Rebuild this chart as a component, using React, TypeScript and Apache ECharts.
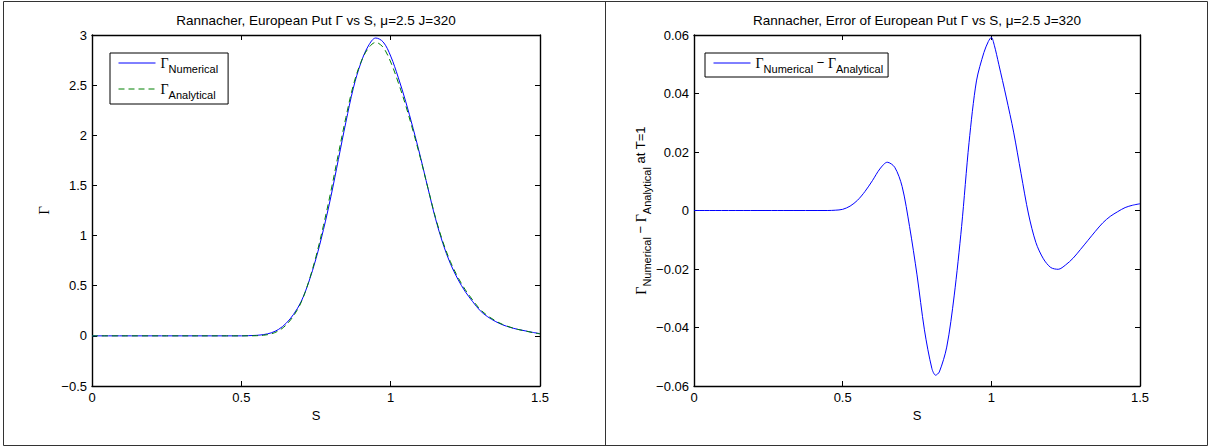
import React, { useEffect, useRef } from 'react';
import * as echarts from 'echarts';

// ---- data ----
const sGamma = [0, 0.25, 0.45, 0.475, 0.5, 0.525, 0.55, 0.575, 0.6, 0.625, 0.65, 0.675, 0.7, 0.725, 0.75, 0.775, 0.8, 0.825, 0.85, 0.875, 0.9, 0.925, 0.95, 0.975, 1.0, 1.025, 1.05, 1.075, 1.1, 1.125, 1.15, 1.175, 1.2, 1.225, 1.25, 1.275, 1.3, 1.325, 1.35, 1.375, 1.4, 1.425, 1.45, 1.475, 1.5];
const gammaNumerical = [0, 0, 0, 0, 0, 0.002, 0.005, 0.013, 0.03, 0.065, 0.125, 0.215, 0.34, 0.53, 0.77, 1.06, 1.39, 1.76, 2.13, 2.47, 2.72, 2.89, 2.97, 2.93, 2.79, 2.58, 2.34, 2.07, 1.78, 1.47, 1.17, 0.92, 0.72, 0.565, 0.44, 0.34, 0.25, 0.19, 0.145, 0.11, 0.085, 0.065, 0.05, 0.035, 0.022];
const gammaAnalytical = [0, 0, 0, 0, 0, 0.0005, 0.0015, 0.0065, 0.02, 0.051, 0.108, 0.2, 0.332, 0.535, 0.792, 1.101, 1.444, 1.815, 2.177, 2.499, 2.726, 2.867, 2.926, 2.876, 2.731, 2.53, 2.301, 2.043, 1.767, 1.471, 1.181, 0.937, 0.74, 0.585, 0.459, 0.356, 0.263, 0.2, 0.152, 0.114, 0.087, 0.065, 0.049, 0.033, 0.02];

const sError = [0, 0.3, 0.45, 0.475, 0.5, 0.525, 0.55, 0.575, 0.6, 0.625, 0.65, 0.675, 0.7, 0.725, 0.75, 0.775, 0.8, 0.8125, 0.825, 0.85, 0.875, 0.9, 0.925, 0.95, 0.975, 0.99, 1.0, 1.01, 1.025, 1.05, 1.075, 1.1, 1.125, 1.15, 1.175, 1.2, 1.225, 1.25, 1.275, 1.3, 1.325, 1.35, 1.375, 1.4, 1.425, 1.45, 1.475, 1.5];
const gammaError = [0, 0, 0, 0.0001, 0.0004, 0.0015, 0.0035, 0.0065, 0.0102, 0.0142, 0.0165, 0.0148, 0.0082, -0.0055, -0.022, -0.0408, -0.054, -0.0563, -0.0552, -0.0467, -0.0292, -0.0055, 0.0232, 0.0443, 0.054, 0.0578, 0.0592, 0.0565, 0.05, 0.0388, 0.0268, 0.0126, -0.0012, -0.011, -0.0165, -0.0195, -0.0201, -0.0186, -0.0163, -0.0133, -0.0102, -0.0071, -0.0042, -0.002, -0.0004, 0.001, 0.0018, 0.0023];

const xRange = { min: 0, max: 1.5, interval: 0.5 };
const gammaRange = { min: -0.5, max: 3, interval: 0.5 };
const errorRange = { min: -0.06, max: 0.06, interval: 0.02 };

const titleLeft = 'Rannacher, European Put Γ vs S, μ=2.5 J=320';
const titleRight = 'Rannacher, Error of European Put Γ vs S, μ=2.5 J=320';
const nameNum = 'Γ Numerical';
const nameAna = 'Γ Analytical';
const nameErr = 'Γ Numerical − Γ Analytical';

const SANS = '"Liberation Sans", Arial, Helvetica, sans-serif';
const SERIF = '"Liberation Serif", "Times New Roman", serif';

const rich = {
  G: { fontFamily: SERIF, fontSize: 14, lineHeight: 14, verticalAlign: 'top', color: '#000' },
  s: { fontFamily: SANS, fontSize: 11, lineHeight: 12, padding: [7, 0, 0, 0], verticalAlign: 'top', color: '#000' },
  m: { fontFamily: SANS, fontSize: 13, lineHeight: 14, verticalAlign: 'top', color: '#000' },
};

const fmt = (v: number) => {
  const r = Math.round(v * 10000) / 10000;
  if (r === 0) return '0';
  return r < 0 ? '\u2212' + String(-r) : String(r);
};

const axisLine = { show: true, onZero: false, lineStyle: { color: '#000', width: 1.4 } };
const axisTick = { show: true, inside: true, length: 5, lineStyle: { color: '#000', width: 1 } };
const labelStyle = { color: '#000', fontSize: 13, fontFamily: SANS, formatter: fmt };

function xAxes(gridIndex: number) {
  return [
    {
      type: 'value', gridIndex, position: 'bottom', ...xRange,
      axisLine, axisTick, splitLine: { show: false },
      axisLabel: { ...labelStyle, margin: 5 },
      name: 'S', nameLocation: 'middle', nameGap: 21,
      nameTextStyle: { color: '#000', fontSize: 13, fontFamily: SANS },
    },
    {
      type: 'value', gridIndex, position: 'top', ...xRange,
      axisLine, axisTick, splitLine: { show: false }, axisLabel: { show: false },
    },
  ];
}

function yAxes(gridIndex: number, range: any, name: string, nameGap: number, nameStyle: any) {
  return [
    {
      type: 'value', gridIndex, position: 'left', ...range,
      axisLine, axisTick, splitLine: { show: false },
      axisLabel: { ...labelStyle, margin: 5 },
      name, nameLocation: 'middle', nameGap, nameRotate: 90, nameTextStyle: nameStyle,
    },
    {
      type: 'value', gridIndex, position: 'right', ...range,
      axisLine, axisTick, splitLine: { show: false }, axisLabel: { show: false },
    },
  ];
}

const legendFormatter = (name: string) => {
  if (name === nameNum) return '{G|Γ}{s|Numerical}';
  if (name === nameAna) return '{G|Γ}{s|Analytical}';
  return '{G|Γ}{s|Numerical}{m| − }{G|Γ}{s|Analytical}';
};

const legendBase = {
  orient: 'vertical', itemWidth: 37, itemHeight: 12,
  borderColor: '#000', borderWidth: 1, backgroundColor: '#fff', borderRadius: 0,
  formatter: legendFormatter, textStyle: { rich }, selectedMode: false,
  itemStyle: { opacity: 0, borderWidth: 0 },
  lineStyle: { width: 1 },
};

export default function App() {
  const ref = useRef<HTMLDivElement>(null);
  useEffect(() => {
    if (!ref.current) return;
    const chart = echarts.init(ref.current, undefined, { renderer: 'svg' });
    const option: any = {
      animation: false,
      backgroundColor: '#fff',
      textStyle: { fontFamily: SANS },
      title: [
        { text: titleLeft, left: 316, top: 13, padding: 0, textAlign: 'center', textStyle: { color: '#000', fontSize: 13.5, fontWeight: 'normal', fontFamily: SANS } },
        { text: titleRight, left: 917, top: 13, padding: 0, textAlign: 'center', textStyle: { color: '#000', fontSize: 13.5, fontWeight: 'normal', fontFamily: SANS } },
      ],
      grid: [
        { left: 92, top: 35, width: 448, height: 351, show: false },
        { left: 694, top: 35, width: 446, height: 351, show: false },
      ],
      xAxis: [...xAxes(0), ...xAxes(1)],
      yAxis: [
        ...yAxes(0, gammaRange, 'Γ', 41, { color: '#000', fontSize: 15, fontFamily: SERIF }),
        ...yAxes(1, errorRange, '{G|Γ}{s|Numerical}{m| − }{G|Γ}{s|Analytical}{m| at T=1}', 45, { rich }),
      ],
      legend: [
        { ...legendBase, data: [nameNum, nameAna], left: 110, top: 53, itemGap: 8, padding: [3, 10, 4, 8] },
        { ...legendBase, data: [nameErr], left: 705, top: 53, padding: [3, 5, 3, 8] },
      ],
      graphic: [
        { type: 'rect', silent: true, z: 100, shape: { x: 3.5, y: 1.5, width: 1204, height: 444 }, style: { fill: 'none', stroke: '#333', lineWidth: 1 } },
        { type: 'line', silent: true, z: 100, shape: { x1: 605.5, y1: 1.5, x2: 605.5, y2: 445.5 }, style: { stroke: '#333', lineWidth: 1 } },
      ],
      series: [
        {
          name: nameNum, type: 'line', xAxisIndex: 0, yAxisIndex: 0, showSymbol: false, symbol: 'none',
          smooth: 0.35, lineStyle: { color: '#0000ff', width: 1 }, itemStyle: { color: '#0000ff' },
          data: sGamma.map((s, i) => [s, gammaNumerical[i]]),
        },
        {
          name: nameAna, type: 'line', xAxisIndex: 0, yAxisIndex: 0, showSymbol: false, symbol: 'none',
          smooth: 0.35, lineStyle: { color: '#008000', width: 1, type: [6, 4] }, itemStyle: { color: '#008000' },
          data: sGamma.map((s, i) => [s, gammaAnalytical[i]]),
        },
        {
          name: nameErr, type: 'line', xAxisIndex: 2, yAxisIndex: 2, showSymbol: false, symbol: 'none',
          smooth: 0.3, lineStyle: { color: '#0000ff', width: 1 }, itemStyle: { color: '#0000ff' },
          data: sError.map((s, i) => [s, gammaError[i]]),
        },
      ],
    };
    chart.setOption(option);
    return () => chart.dispose();
  }, []);
  return (
    <div
      ref={ref}
      style={{ position: 'fixed', left: 0, top: 0, width: 1211, height: 448, background: '#fff' }}
    />
  );
}
